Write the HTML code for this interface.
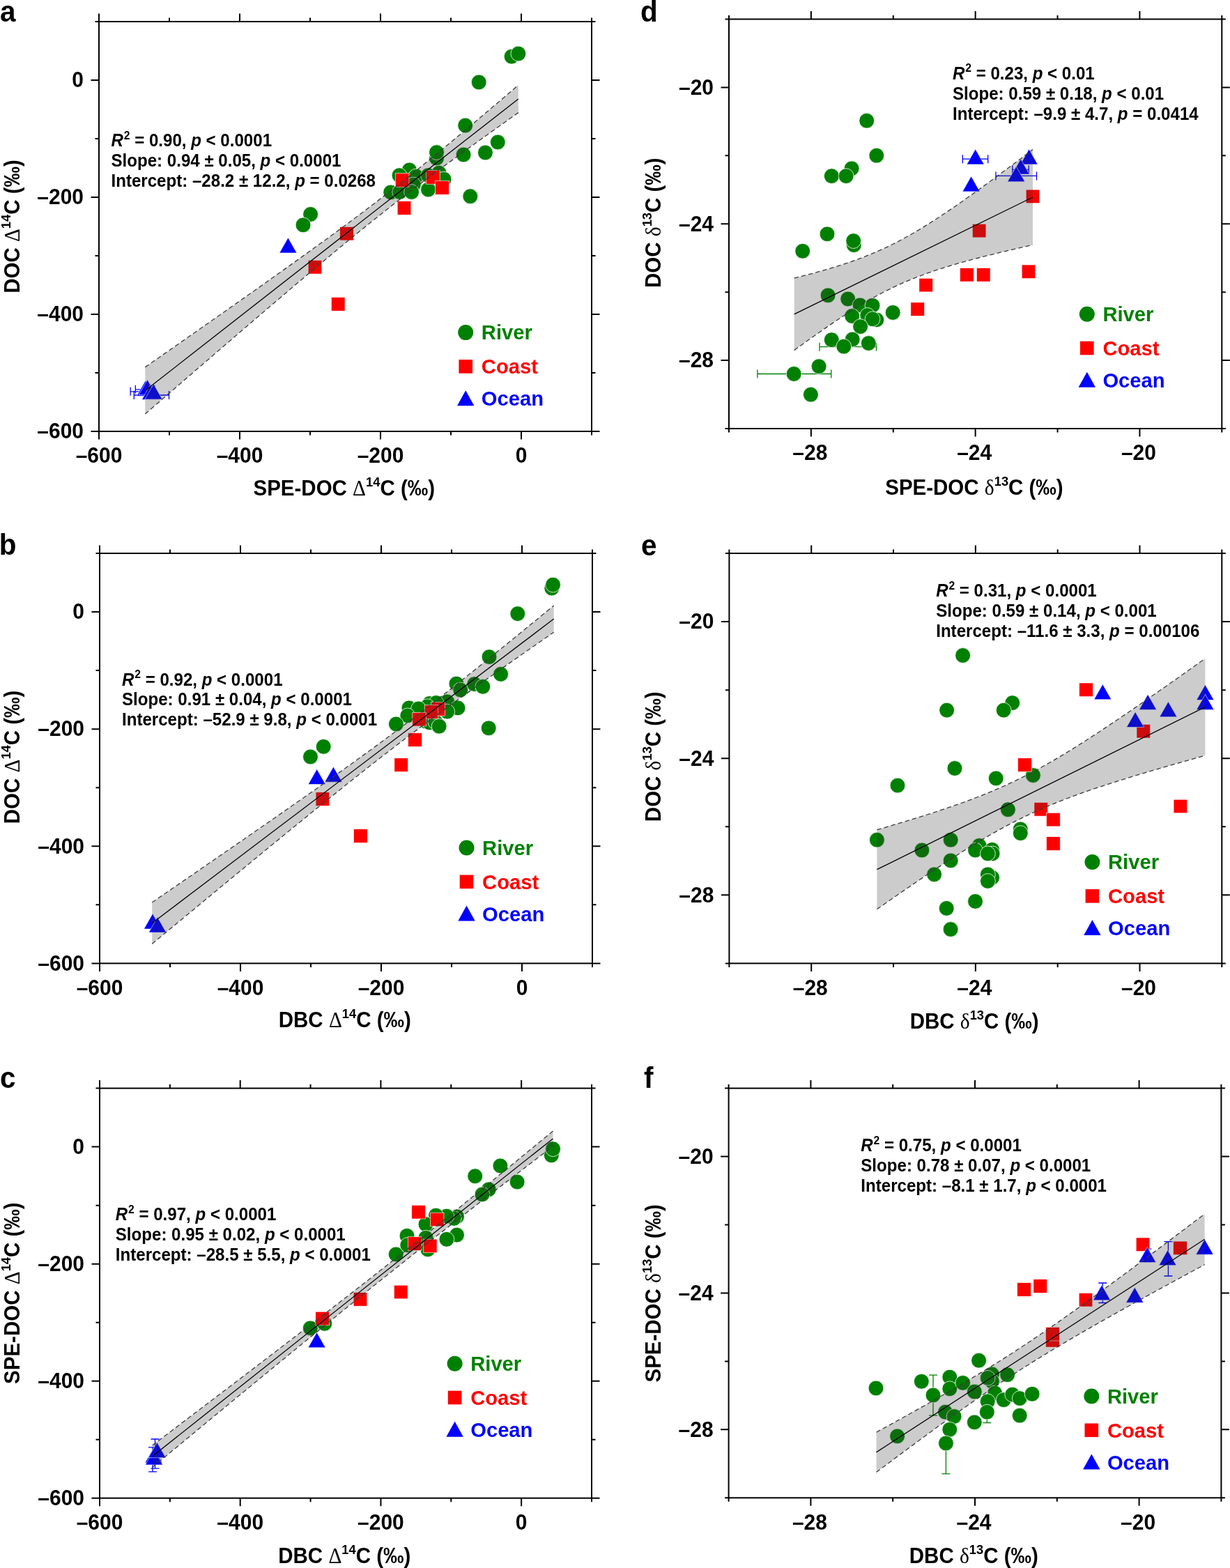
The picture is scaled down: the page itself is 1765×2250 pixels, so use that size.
<!DOCTYPE html>
<html><head><meta charset="utf-8"><title>Figure</title><style>html,body{margin:0;padding:0;background:#fff;}svg{display:block;}</style></head><body>
<svg width="1765" height="2250" viewBox="0 0 1765 2250" font-family="'Liberation Sans', Arial, Helvetica, sans-serif" font-weight="bold" fill="#000">
<rect width="100%" height="100%" fill="#fff"/>
<g id="pa">
<path d="M187.2 561.8H215M187.2 555.8V567.8M215 555.8V567.8" stroke="#0000ff" stroke-width="1.3" fill="none"/>
<path d="M194.3 558.8H222M194.3 552.8V564.8M222 552.8V564.8" stroke="#0000ff" stroke-width="1.3" fill="none"/>
<path d="M192.3 567H242.5M192.3 561V573M242.5 561V573" stroke="#0000ff" stroke-width="1.3" fill="none"/>
<g fill="#008000" stroke="#fff" stroke-width="0.8">
<circle cx="734.1" cy="81.1" r="10.9"/>
<circle cx="743.8" cy="77" r="10.9"/>
<circle cx="687.2" cy="118" r="10.9"/>
<circle cx="667.7" cy="180" r="10.9"/>
<circle cx="714.3" cy="204" r="10.9"/>
<circle cx="696.4" cy="219" r="10.9"/>
<circle cx="665.1" cy="222" r="10.9"/>
<circle cx="626.5" cy="227" r="10.9"/>
<circle cx="626.5" cy="218.6" r="10.9"/>
<circle cx="674.8" cy="281.7" r="10.9"/>
<circle cx="587.4" cy="243.9" r="10.9"/>
<circle cx="573" cy="251.6" r="10.9"/>
<circle cx="560.7" cy="275.9" r="10.9"/>
<circle cx="573.7" cy="275.5" r="10.9"/>
<circle cx="596.9" cy="253" r="10.9"/>
<circle cx="593.4" cy="265" r="10.9"/>
<circle cx="590.6" cy="275.5" r="10.9"/>
<circle cx="614.5" cy="272" r="10.9"/>
<circle cx="614.5" cy="251.6" r="10.9"/>
<circle cx="630" cy="248.1" r="10.9"/>
<circle cx="637" cy="257.2" r="10.9"/>
<circle cx="445.6" cy="307.5" r="10.9"/>
<circle cx="435" cy="322.9" r="10.9"/>
</g>
<g fill="#ff0000" stroke="#fff" stroke-width="0.6">
<rect x="567.3" y="248.7" width="19.6" height="19.6"/>
<rect x="611.6" y="244.6" width="19.6" height="19.6"/>
<rect x="624.7" y="259.6" width="19.6" height="19.6"/>
<rect x="570.2" y="288.7" width="19.6" height="19.6"/>
<rect x="487.7" y="325.4" width="19.6" height="19.6"/>
<rect x="442.2" y="373.5" width="19.6" height="19.6"/>
<rect x="475.4" y="426.6" width="19.6" height="19.6"/>
</g>
<g fill="#0000ff" stroke="#fff" stroke-width="0.6">
<polygon points="413.4,341 425.9,363 400.9,363"/>
<polygon points="208.5,546.5 221,568.5 196,568.5"/>
<polygon points="211.5,544.8 224,566.8 199,566.8"/>
<polygon points="216,551.5 228.5,573.5 203.5,573.5"/>
<polygon points="220.4,551 232.9,573 207.9,573"/>
</g>
<polygon points="208.3,526.9 217.38,520.57 226.45,514.23 235.53,507.9 244.61,501.56 253.68,495.22 262.76,488.87 271.83,482.52 280.91,476.17 289.99,469.81 299.06,463.45 308.14,457.09 317.22,450.72 326.29,444.34 335.37,437.96 344.44,431.57 353.52,425.17 362.6,418.77 371.67,412.36 380.75,405.93 389.83,399.5 398.9,393.05 407.98,386.6 417.05,380.12 426.13,373.63 435.21,367.12 444.28,360.59 453.36,354.04 462.44,347.46 471.51,340.86 480.59,334.22 489.66,327.55 498.74,320.84 507.82,314.09 516.89,307.3 525.97,300.45 535.05,293.56 544.12,286.61 553.2,279.6 562.27,272.53 571.35,265.41 580.43,258.23 589.5,250.99 598.58,243.7 607.66,236.35 616.73,228.96 625.81,221.52 634.88,214.04 643.96,206.52 653.04,198.97 662.11,191.39 671.19,183.77 680.27,176.14 689.34,168.48 698.42,160.79 707.49,153.1 716.57,145.38 725.65,137.65 734.72,129.91 743.8,122.15 743.8,161.65 734.72,168.08 725.65,174.53 716.57,180.99 707.49,187.46 698.42,193.95 689.34,200.46 680.27,206.99 671.19,213.55 662.11,220.12 653.04,226.73 643.96,233.37 634.88,240.04 625.81,246.75 616.73,253.5 607.66,260.29 598.58,267.14 589.5,274.04 580.43,280.99 571.35,288 562.27,295.06 553.2,302.19 544.12,309.37 535.05,316.61 525.97,323.9 516.89,331.25 507.82,338.64 498.74,346.08 489.66,353.56 480.59,361.08 471.51,368.64 462.44,376.22 453.36,383.83 444.28,391.47 435.21,399.13 426.13,406.81 417.05,414.51 407.98,422.23 398.9,429.96 389.83,437.7 380.75,445.46 371.67,453.23 362.6,461 353.52,468.79 344.44,476.58 335.37,484.38 326.29,492.19 317.22,500 308.14,507.82 299.06,515.65 289.99,523.48 280.91,531.31 271.83,539.15 262.76,546.99 253.68,554.83 244.61,562.68 235.53,570.53 226.45,578.39 217.38,586.24 208.3,594.1" fill="#323232" fill-opacity="0.25" stroke="none"/>
<polyline points="208.3,526.9 217.38,520.57 226.45,514.23 235.53,507.9 244.61,501.56 253.68,495.22 262.76,488.87 271.83,482.52 280.91,476.17 289.99,469.81 299.06,463.45 308.14,457.09 317.22,450.72 326.29,444.34 335.37,437.96 344.44,431.57 353.52,425.17 362.6,418.77 371.67,412.36 380.75,405.93 389.83,399.5 398.9,393.05 407.98,386.6 417.05,380.12 426.13,373.63 435.21,367.12 444.28,360.59 453.36,354.04 462.44,347.46 471.51,340.86 480.59,334.22 489.66,327.55 498.74,320.84 507.82,314.09 516.89,307.3 525.97,300.45 535.05,293.56 544.12,286.61 553.2,279.6 562.27,272.53 571.35,265.41 580.43,258.23 589.5,250.99 598.58,243.7 607.66,236.35 616.73,228.96 625.81,221.52 634.88,214.04 643.96,206.52 653.04,198.97 662.11,191.39 671.19,183.77 680.27,176.14 689.34,168.48 698.42,160.79 707.49,153.1 716.57,145.38 725.65,137.65 734.72,129.91 743.8,122.15" fill="none" stroke="#3c3c3c" stroke-width="1.3" stroke-dasharray="6.4 4.1"/>
<polyline points="208.3,594.1 217.38,586.24 226.45,578.39 235.53,570.53 244.61,562.68 253.68,554.83 262.76,546.99 271.83,539.15 280.91,531.31 289.99,523.48 299.06,515.65 308.14,507.82 317.22,500 326.29,492.19 335.37,484.38 344.44,476.58 353.52,468.79 362.6,461 371.67,453.23 380.75,445.46 389.83,437.7 398.9,429.96 407.98,422.23 417.05,414.51 426.13,406.81 435.21,399.13 444.28,391.47 453.36,383.83 462.44,376.22 471.51,368.64 480.59,361.08 489.66,353.56 498.74,346.08 507.82,338.64 516.89,331.25 525.97,323.9 535.05,316.61 544.12,309.37 553.2,302.19 562.27,295.06 571.35,288 580.43,280.99 589.5,274.04 598.58,267.14 607.66,260.29 616.73,253.5 625.81,246.75 634.88,240.04 643.96,233.37 653.04,226.73 662.11,220.12 671.19,213.55 680.27,206.99 689.34,200.46 698.42,193.95 707.49,187.46 716.57,180.99 725.65,174.53 734.72,168.08 743.8,161.65" fill="none" stroke="#3c3c3c" stroke-width="1.3" stroke-dasharray="6.4 4.1"/>
<line x1="208.3" y1="560.5" x2="743.8" y2="141.9" stroke="#000" stroke-width="1.3"/>
<path d="M142 619V630.5M142 31V19.5M243 619V624.5M243 31V25.5M344 619V630.5M344 31V19.5M445 619V624.5M445 31V25.5M546 619V630.5M546 31V19.5M647 619V624.5M647 31V25.5M748 619V630.5M748 31V19.5M849 619V624.5M849 31V25.5M142 619H130.5M849 619H860.5M142 535H136.5M849 535H854.5M142 451H130.5M849 451H860.5M142 367H136.5M849 367H854.5M142 283H130.5M849 283H860.5M142 199H136.5M849 199H854.5M142 115H130.5M849 115H860.5M142 31H136.5M849 31H854.5" stroke="#000" stroke-width="2" fill="none" stroke-linecap="butt"/>
<rect x="142" y="31" width="707" height="588" fill="none" stroke="#000" stroke-width="2"/>
<text transform="translate(142 664.3) scale(1 1.035)" text-anchor="middle" font-size="30">–600</text>
<text transform="translate(344 664.3) scale(1 1.035)" text-anchor="middle" font-size="30">–400</text>
<text transform="translate(546 664.3) scale(1 1.035)" text-anchor="middle" font-size="30">–200</text>
<text transform="translate(748 664.3) scale(1 1.035)" text-anchor="middle" font-size="30">0</text>
<text transform="translate(120 629.32) scale(1 1.035)" text-anchor="end" font-size="30">–600</text>
<text transform="translate(120 461.32) scale(1 1.035)" text-anchor="end" font-size="30">–400</text>
<text transform="translate(120 293.32) scale(1 1.035)" text-anchor="end" font-size="30">–200</text>
<text transform="translate(120 125.32) scale(1 1.035)" text-anchor="end" font-size="30">0</text>
<text transform="translate(493.8 710.8) scale(1 1.035)" text-anchor="middle" font-size="29.5"><tspan>SPE-DOC </tspan><tspan font-family="'Liberation Serif', serif" font-weight="normal" font-size="29.5">Δ</tspan><tspan font-size="18.29" dy="-12.39">14</tspan><tspan dy="12.39">C (‰)</tspan></text>
<text transform="translate(28.1 325) rotate(-90) scale(1 1.035)" text-anchor="middle" font-size="29.5"><tspan>DOC </tspan><tspan font-family="'Liberation Serif', serif" font-weight="normal" font-size="29.5">Δ</tspan><tspan font-size="18.29" dy="-12.39">14</tspan><tspan dy="12.39">C (‰)</tspan></text>
<text transform="translate(0 31.2) scale(1 1.035)" font-size="40.5">a</text>
<text transform="translate(159.5 210) scale(1 1.035)" font-size="24.1" xml:space="preserve"><tspan font-style="italic">R</tspan><tspan font-size="15.67" dx="0.8" dy="-10.12">2</tspan><tspan dy="10.12"> </tspan>= 0.90, <tspan font-style="italic">p</tspan> < 0.0001</text>
<text transform="translate(159.5 238.8) scale(1 1.035)" font-size="24.1" xml:space="preserve">Slope: 0.94 ± 0.05, <tspan font-style="italic">p</tspan> < 0.0001</text>
<text transform="translate(159.5 267.6) scale(1 1.035)" font-size="24.1" xml:space="preserve">Intercept: –28.2 ± 12.2, <tspan font-style="italic">p</tspan> = 0.0268</text>
<circle cx="668.2" cy="477.1" r="11" fill="#008000"/>
<text transform="translate(690.8 487.3) scale(1 1.035)" font-size="29.2" fill="#008000">River</text>
<rect x="658.4" y="516.1" width="19.6" height="19.6" fill="#ff0000"/>
<text transform="translate(690.8 536.2) scale(1 1.035)" font-size="29.2" fill="#ff0000">Coast</text>
<polygon points="668.2,560.2 680.4,582.2 656,582.2" fill="#0000ff"/>
<text transform="translate(690.8 582.2) scale(1 1.035)" font-size="29.2" fill="#0000ff">Ocean</text>
</g>
<g id="pb">
<g fill="#008000" stroke="#fff" stroke-width="0.8">
<circle cx="791.8" cy="844" r="10.9"/>
<circle cx="793.5" cy="839.1" r="10.9"/>
<circle cx="742.8" cy="880.6" r="10.9"/>
<circle cx="702" cy="942.6" r="10.9"/>
<circle cx="718.6" cy="967.4" r="10.9"/>
<circle cx="654.9" cy="981.1" r="10.9"/>
<circle cx="660.7" cy="990" r="10.9"/>
<circle cx="680.7" cy="981.6" r="10.9"/>
<circle cx="692.8" cy="985.3" r="10.9"/>
<circle cx="701.2" cy="1044.8" r="10.9"/>
<circle cx="641.7" cy="1006.9" r="10.9"/>
<circle cx="657" cy="1015.9" r="10.9"/>
<circle cx="641.7" cy="1021.1" r="10.9"/>
<circle cx="616.4" cy="1009.5" r="10.9"/>
<circle cx="625.9" cy="1008.5" r="10.9"/>
<circle cx="613.2" cy="1013.7" r="10.9"/>
<circle cx="586.9" cy="1015.9" r="10.9"/>
<circle cx="600.6" cy="1016.9" r="10.9"/>
<circle cx="584.8" cy="1026.9" r="10.9"/>
<circle cx="568.4" cy="1039" r="10.9"/>
<circle cx="611.6" cy="1035.3" r="10.9"/>
<circle cx="616.4" cy="1036.9" r="10.9"/>
<circle cx="624.8" cy="1035.9" r="10.9"/>
<circle cx="630.1" cy="1042.2" r="10.9"/>
<circle cx="464.2" cy="1071.4" r="10.9"/>
<circle cx="445.5" cy="1086" r="10.9"/>
</g>
<g fill="#ff0000" stroke="#fff" stroke-width="0.6">
<rect x="618.7" y="1007.6" width="19.6" height="19.6"/>
<rect x="609.2" y="1011.8" width="19.6" height="19.6"/>
<rect x="591.8" y="1022.4" width="19.6" height="19.6"/>
<rect x="585.7" y="1051.8" width="19.6" height="19.6"/>
<rect x="565.9" y="1087.8" width="19.6" height="19.6"/>
<rect x="453.1" y="1136.8" width="19.6" height="19.6"/>
<rect x="507.6" y="1189.7" width="19.6" height="19.6"/>
</g>
<g fill="#0000ff" stroke="#fff" stroke-width="0.6">
<polygon points="454.7,1103.6 467.2,1125.6 442.2,1125.6"/>
<polygon points="478.4,1100.2 490.9,1122.2 465.9,1122.2"/>
<polygon points="219,1311.1 231.5,1333.1 206.5,1333.1"/>
<polygon points="226,1316.1 238.5,1338.1 213.5,1338.1"/>
</g>
<polygon points="218.2,1294.95 227.97,1288.25 237.74,1281.54 247.51,1274.83 257.28,1268.12 267.06,1261.41 276.83,1254.69 286.6,1247.97 296.37,1241.24 306.14,1234.51 315.91,1227.78 325.68,1221.04 335.45,1214.3 345.23,1207.55 355,1200.79 364.77,1194.03 374.54,1187.26 384.31,1180.48 394.08,1173.69 403.85,1166.89 413.62,1160.07 423.39,1153.25 433.17,1146.41 442.94,1139.55 452.71,1132.68 462.48,1125.79 472.25,1118.87 482.02,1111.93 491.79,1104.97 501.56,1097.97 511.34,1090.94 521.11,1083.87 530.88,1076.76 540.65,1069.61 550.42,1062.41 560.19,1055.17 569.96,1047.87 579.73,1040.52 589.51,1033.12 599.28,1025.67 609.05,1018.16 618.82,1010.6 628.59,1002.99 638.36,995.34 648.13,987.64 657.9,979.91 667.67,972.13 677.45,964.33 687.22,956.49 696.99,948.63 706.76,940.74 716.53,932.84 726.3,924.91 736.07,916.96 745.84,909 755.62,901.02 765.39,893.03 775.16,885.03 784.93,877.02 794.7,869 794.7,907.2 784.93,913.98 775.16,920.77 765.39,927.57 755.62,934.38 745.84,941.2 736.07,948.04 726.3,954.89 716.53,961.76 706.76,968.66 696.99,975.57 687.22,982.51 677.45,989.47 667.67,996.47 657.9,1003.49 648.13,1010.56 638.36,1017.66 628.59,1024.81 618.82,1032 609.05,1039.24 599.28,1046.53 589.51,1053.88 579.73,1061.28 569.96,1068.73 560.19,1076.23 550.42,1083.79 540.65,1091.39 530.88,1099.04 521.11,1106.73 511.34,1114.46 501.56,1122.23 491.79,1130.03 482.02,1137.87 472.25,1145.73 462.48,1153.61 452.71,1161.52 442.94,1169.45 433.17,1177.39 423.39,1185.35 413.62,1193.33 403.85,1201.31 394.08,1209.31 384.31,1217.32 374.54,1225.34 364.77,1233.37 355,1241.41 345.23,1249.45 335.45,1257.5 325.68,1265.56 315.91,1273.62 306.14,1281.69 296.37,1289.76 286.6,1297.83 276.83,1305.91 267.06,1313.99 257.28,1322.08 247.51,1330.17 237.74,1338.26 227.97,1346.35 218.2,1354.45" fill="#323232" fill-opacity="0.25" stroke="none"/>
<polyline points="218.2,1294.95 227.97,1288.25 237.74,1281.54 247.51,1274.83 257.28,1268.12 267.06,1261.41 276.83,1254.69 286.6,1247.97 296.37,1241.24 306.14,1234.51 315.91,1227.78 325.68,1221.04 335.45,1214.3 345.23,1207.55 355,1200.79 364.77,1194.03 374.54,1187.26 384.31,1180.48 394.08,1173.69 403.85,1166.89 413.62,1160.07 423.39,1153.25 433.17,1146.41 442.94,1139.55 452.71,1132.68 462.48,1125.79 472.25,1118.87 482.02,1111.93 491.79,1104.97 501.56,1097.97 511.34,1090.94 521.11,1083.87 530.88,1076.76 540.65,1069.61 550.42,1062.41 560.19,1055.17 569.96,1047.87 579.73,1040.52 589.51,1033.12 599.28,1025.67 609.05,1018.16 618.82,1010.6 628.59,1002.99 638.36,995.34 648.13,987.64 657.9,979.91 667.67,972.13 677.45,964.33 687.22,956.49 696.99,948.63 706.76,940.74 716.53,932.84 726.3,924.91 736.07,916.96 745.84,909 755.62,901.02 765.39,893.03 775.16,885.03 784.93,877.02 794.7,869" fill="none" stroke="#3c3c3c" stroke-width="1.3" stroke-dasharray="6.4 4.1"/>
<polyline points="218.2,1354.45 227.97,1346.35 237.74,1338.26 247.51,1330.17 257.28,1322.08 267.06,1313.99 276.83,1305.91 286.6,1297.83 296.37,1289.76 306.14,1281.69 315.91,1273.62 325.68,1265.56 335.45,1257.5 345.23,1249.45 355,1241.41 364.77,1233.37 374.54,1225.34 384.31,1217.32 394.08,1209.31 403.85,1201.31 413.62,1193.33 423.39,1185.35 433.17,1177.39 442.94,1169.45 452.71,1161.52 462.48,1153.61 472.25,1145.73 482.02,1137.87 491.79,1130.03 501.56,1122.23 511.34,1114.46 521.11,1106.73 530.88,1099.04 540.65,1091.39 550.42,1083.79 560.19,1076.23 569.96,1068.73 579.73,1061.28 589.51,1053.88 599.28,1046.53 609.05,1039.24 618.82,1032 628.59,1024.81 638.36,1017.66 648.13,1010.56 657.9,1003.49 667.67,996.47 677.45,989.47 687.22,982.51 696.99,975.57 706.76,968.66 716.53,961.76 726.3,954.89 736.07,948.04 745.84,941.2 755.62,934.38 765.39,927.57 775.16,920.77 784.93,913.98 794.7,907.2" fill="none" stroke="#3c3c3c" stroke-width="1.3" stroke-dasharray="6.4 4.1"/>
<line x1="218.2" y1="1324.7" x2="794.7" y2="888.1" stroke="#000" stroke-width="1.3"/>
<path d="M143 1382.4V1393.9M143 794V782.5M244 1382.4V1387.9M244 794V788.5M345 1382.4V1393.9M345 794V782.5M446 1382.4V1387.9M446 794V788.5M547 1382.4V1393.9M547 794V782.5M648 1382.4V1387.9M648 794V788.5M749 1382.4V1393.9M749 794V782.5M850 1382.4V1387.9M850 794V788.5M143 1382.4H131.5M850 1382.4H861.5M143 1298.34H137.5M850 1298.34H855.5M143 1214.29H131.5M850 1214.29H861.5M143 1130.23H137.5M850 1130.23H855.5M143 1046.17H131.5M850 1046.17H861.5M143 962.11H137.5M850 962.11H855.5M143 878.06H131.5M850 878.06H861.5M143 794H137.5M850 794H855.5" stroke="#000" stroke-width="2" fill="none" stroke-linecap="butt"/>
<rect x="143" y="794" width="707" height="588.4" fill="none" stroke="#000" stroke-width="2"/>
<text transform="translate(143 1427.7) scale(1 1.035)" text-anchor="middle" font-size="30">–600</text>
<text transform="translate(345 1427.7) scale(1 1.035)" text-anchor="middle" font-size="30">–400</text>
<text transform="translate(547 1427.7) scale(1 1.035)" text-anchor="middle" font-size="30">–200</text>
<text transform="translate(749 1427.7) scale(1 1.035)" text-anchor="middle" font-size="30">0</text>
<text transform="translate(121 1392.72) scale(1 1.035)" text-anchor="end" font-size="30">–600</text>
<text transform="translate(121 1224.6) scale(1 1.035)" text-anchor="end" font-size="30">–400</text>
<text transform="translate(121 1056.49) scale(1 1.035)" text-anchor="end" font-size="30">–200</text>
<text transform="translate(121 888.37) scale(1 1.035)" text-anchor="end" font-size="30">0</text>
<text transform="translate(494.8 1473.9) scale(1 1.035)" text-anchor="middle" font-size="29.5"><tspan>DBC </tspan><tspan font-family="'Liberation Serif', serif" font-weight="normal" font-size="29.5">Δ</tspan><tspan font-size="18.29" dy="-12.39">14</tspan><tspan dy="12.39">C (‰)</tspan></text>
<text transform="translate(28.1 1086.45) rotate(-90) scale(1 1.035)" text-anchor="middle" font-size="29.5"><tspan>DOC </tspan><tspan font-family="'Liberation Serif', serif" font-weight="normal" font-size="29.5">Δ</tspan><tspan font-size="18.29" dy="-12.39">14</tspan><tspan dy="12.39">C (‰)</tspan></text>
<text transform="translate(-1.2 796.4) scale(1 1.035)" font-size="40.5">b</text>
<text transform="translate(175 983.5) scale(1 1.035)" font-size="24.1" xml:space="preserve"><tspan font-style="italic">R</tspan><tspan font-size="15.67" dx="0.8" dy="-10.12">2</tspan><tspan dy="10.12"> </tspan>= 0.92, <tspan font-style="italic">p</tspan> < 0.0001</text>
<text transform="translate(175 1012.3) scale(1 1.035)" font-size="24.1" xml:space="preserve">Slope: 0.91 ± 0.04, <tspan font-style="italic">p</tspan> < 0.0001</text>
<text transform="translate(175 1041.1) scale(1 1.035)" font-size="24.1" xml:space="preserve">Intercept: –52.9 ± 9.8, <tspan font-style="italic">p</tspan> < 0.0001</text>
<circle cx="669.5" cy="1216.5" r="11" fill="#008000"/>
<text transform="translate(692.1 1226.7) scale(1 1.035)" font-size="29.2" fill="#008000">River</text>
<rect x="659.7" y="1255.5" width="19.6" height="19.6" fill="#ff0000"/>
<text transform="translate(692.1 1275.6) scale(1 1.035)" font-size="29.2" fill="#ff0000">Coast</text>
<polygon points="669.5,1299.6 681.7,1321.6 657.3,1321.6" fill="#0000ff"/>
<text transform="translate(692.1 1321.6) scale(1 1.035)" font-size="29.2" fill="#0000ff">Ocean</text>
</g>
<g id="pc">
<path d="M222.5 2065V2107.2M216.5 2065H228.5M216.5 2107.2H228.5" stroke="#0000ff" stroke-width="1.3" fill="none"/>
<path d="M219 2076.8V2111.8M213 2076.8H225M213 2111.8H225" stroke="#0000ff" stroke-width="1.3" fill="none"/>
<g fill="#008000" stroke="#fff" stroke-width="0.8">
<circle cx="791.3" cy="1657.8" r="10.9"/>
<circle cx="793.5" cy="1648.7" r="10.9"/>
<circle cx="717.9" cy="1672.9" r="10.9"/>
<circle cx="681.7" cy="1687.7" r="10.9"/>
<circle cx="742.1" cy="1696" r="10.9"/>
<circle cx="701.2" cy="1706.8" r="10.9"/>
<circle cx="692" cy="1713.9" r="10.9"/>
<circle cx="655.5" cy="1745.9" r="10.9"/>
<circle cx="651.3" cy="1748.4" r="10.9"/>
<circle cx="640.9" cy="1745.1" r="10.9"/>
<circle cx="625.5" cy="1744.2" r="10.9"/>
<circle cx="611" cy="1756.7" r="10.9"/>
<circle cx="655.5" cy="1772.1" r="10.9"/>
<circle cx="640.9" cy="1778.3" r="10.9"/>
<circle cx="584" cy="1773.3" r="10.9"/>
<circle cx="584.8" cy="1786.6" r="10.9"/>
<circle cx="611" cy="1776.2" r="10.9"/>
<circle cx="613.9" cy="1792.9" r="10.9"/>
<circle cx="568.2" cy="1799.9" r="10.9"/>
<circle cx="445.3" cy="1905.8" r="10.9"/>
<circle cx="465.8" cy="1899.3" r="10.9"/>
</g>
<g fill="#ff0000" stroke="#fff" stroke-width="0.6">
<rect x="590.8" y="1729.4" width="19.6" height="19.6"/>
<rect x="617.4" y="1740.2" width="19.6" height="19.6"/>
<rect x="585.4" y="1774.8" width="19.6" height="19.6"/>
<rect x="607.4" y="1778.1" width="19.6" height="19.6"/>
<rect x="565.4" y="1844.2" width="19.6" height="19.6"/>
<rect x="507.2" y="1854.6" width="19.6" height="19.6"/>
<rect x="452.8" y="1882.2" width="19.6" height="19.6"/>
</g>
<g fill="#0000ff" stroke="#fff" stroke-width="0.6">
<polygon points="454.6,1911.8 467.1,1933.8 442.1,1933.8"/>
<polygon points="220.6,2077 233.1,2099 208.1,2099"/>
<polygon points="221,2080 233.5,2102 208.5,2102"/>
<polygon points="225.4,2069.7 237.9,2091.7 212.9,2091.7"/>
</g>
<polygon points="218.7,2074 228.44,2066.61 238.18,2059.22 247.93,2051.83 257.67,2044.43 267.41,2037.03 277.15,2029.63 286.9,2022.23 296.64,2014.82 306.38,2007.41 316.12,2000 325.87,1992.58 335.61,1985.16 345.35,1977.73 355.09,1970.3 364.84,1962.87 374.58,1955.43 384.32,1947.98 394.06,1940.53 403.81,1933.07 413.55,1925.6 423.29,1918.13 433.03,1910.64 442.77,1903.15 452.52,1895.65 462.26,1888.13 472,1880.6 481.74,1873.06 491.49,1865.51 501.23,1857.94 510.97,1850.36 520.71,1842.76 530.46,1835.14 540.2,1827.5 549.94,1819.85 559.68,1812.17 569.43,1804.48 579.17,1796.77 588.91,1789.03 598.65,1781.28 608.39,1773.51 618.14,1765.71 627.88,1757.9 637.62,1750.07 647.36,1742.22 657.11,1734.36 666.85,1726.48 676.59,1718.59 686.33,1710.68 696.08,1702.75 705.82,1694.82 715.56,1686.88 725.3,1678.92 735.05,1670.96 744.79,1662.98 754.53,1655 764.27,1647.01 774.02,1639.01 783.76,1631.01 793.5,1623 793.5,1644.8 783.76,1652.24 774.02,1659.69 764.27,1667.14 754.53,1674.6 744.79,1682.07 735.05,1689.55 725.3,1697.04 715.56,1704.53 705.82,1712.04 696.08,1719.55 686.33,1727.08 676.59,1734.63 666.85,1742.18 657.11,1749.75 647.36,1757.34 637.62,1764.94 627.88,1772.56 618.14,1780.2 608.39,1787.86 598.65,1795.54 588.91,1803.23 579.17,1810.95 569.43,1818.69 559.68,1826.45 549.94,1834.22 540.2,1842.02 530.46,1849.83 520.71,1857.67 510.97,1865.52 501.23,1873.38 491.49,1881.27 481.74,1889.16 472,1897.07 462.26,1905 452.52,1912.93 442.77,1920.88 433.03,1928.84 423.29,1936.8 413.55,1944.78 403.81,1952.76 394.06,1960.75 384.32,1968.75 374.58,1976.76 364.84,1984.77 355.09,1992.78 345.35,2000.8 335.61,2008.83 325.87,2016.86 316.12,2024.89 306.38,2032.93 296.64,2040.97 286.9,2049.02 277.15,2057.06 267.41,2065.11 257.67,2073.17 247.93,2081.22 238.18,2089.28 228.44,2097.34 218.7,2105.4" fill="#323232" fill-opacity="0.25" stroke="none"/>
<polyline points="218.7,2074 228.44,2066.61 238.18,2059.22 247.93,2051.83 257.67,2044.43 267.41,2037.03 277.15,2029.63 286.9,2022.23 296.64,2014.82 306.38,2007.41 316.12,2000 325.87,1992.58 335.61,1985.16 345.35,1977.73 355.09,1970.3 364.84,1962.87 374.58,1955.43 384.32,1947.98 394.06,1940.53 403.81,1933.07 413.55,1925.6 423.29,1918.13 433.03,1910.64 442.77,1903.15 452.52,1895.65 462.26,1888.13 472,1880.6 481.74,1873.06 491.49,1865.51 501.23,1857.94 510.97,1850.36 520.71,1842.76 530.46,1835.14 540.2,1827.5 549.94,1819.85 559.68,1812.17 569.43,1804.48 579.17,1796.77 588.91,1789.03 598.65,1781.28 608.39,1773.51 618.14,1765.71 627.88,1757.9 637.62,1750.07 647.36,1742.22 657.11,1734.36 666.85,1726.48 676.59,1718.59 686.33,1710.68 696.08,1702.75 705.82,1694.82 715.56,1686.88 725.3,1678.92 735.05,1670.96 744.79,1662.98 754.53,1655 764.27,1647.01 774.02,1639.01 783.76,1631.01 793.5,1623" fill="none" stroke="#3c3c3c" stroke-width="1.3" stroke-dasharray="6.4 4.1"/>
<polyline points="218.7,2105.4 228.44,2097.34 238.18,2089.28 247.93,2081.22 257.67,2073.17 267.41,2065.11 277.15,2057.06 286.9,2049.02 296.64,2040.97 306.38,2032.93 316.12,2024.89 325.87,2016.86 335.61,2008.83 345.35,2000.8 355.09,1992.78 364.84,1984.77 374.58,1976.76 384.32,1968.75 394.06,1960.75 403.81,1952.76 413.55,1944.78 423.29,1936.8 433.03,1928.84 442.77,1920.88 452.52,1912.93 462.26,1905 472,1897.07 481.74,1889.16 491.49,1881.27 501.23,1873.38 510.97,1865.52 520.71,1857.67 530.46,1849.83 540.2,1842.02 549.94,1834.22 559.68,1826.45 569.43,1818.69 579.17,1810.95 588.91,1803.23 598.65,1795.54 608.39,1787.86 618.14,1780.2 627.88,1772.56 637.62,1764.94 647.36,1757.34 657.11,1749.75 666.85,1742.18 676.59,1734.63 686.33,1727.08 696.08,1719.55 705.82,1712.04 715.56,1704.53 725.3,1697.04 735.05,1689.55 744.79,1682.07 754.53,1674.6 764.27,1667.14 774.02,1659.69 783.76,1652.24 793.5,1644.8" fill="none" stroke="#3c3c3c" stroke-width="1.3" stroke-dasharray="6.4 4.1"/>
<line x1="218.7" y1="2089.7" x2="793.5" y2="1633.9" stroke="#000" stroke-width="1.3"/>
<path d="M143 2149.7V2161.2M143 1561.6V1550.1M243.86 2149.7V2155.2M243.86 1561.6V1556.1M344.71 2149.7V2161.2M344.71 1561.6V1550.1M445.57 2149.7V2155.2M445.57 1561.6V1556.1M546.43 2149.7V2161.2M546.43 1561.6V1550.1M647.29 2149.7V2155.2M647.29 1561.6V1556.1M748.14 2149.7V2161.2M748.14 1561.6V1550.1M849 2149.7V2155.2M849 1561.6V1556.1M143 2149.7H131.5M849 2149.7H860.5M143 2065.69H137.5M849 2065.69H854.5M143 1981.67H131.5M849 1981.67H860.5M143 1897.66H137.5M849 1897.66H854.5M143 1813.64H131.5M849 1813.64H860.5M143 1729.63H137.5M849 1729.63H854.5M143 1645.61H131.5M849 1645.61H860.5M143 1561.6H137.5M849 1561.6H854.5" stroke="#000" stroke-width="2" fill="none" stroke-linecap="butt"/>
<rect x="143" y="1561.6" width="706" height="588.1" fill="none" stroke="#000" stroke-width="2"/>
<text transform="translate(143 2195) scale(1 1.035)" text-anchor="middle" font-size="30">–600</text>
<text transform="translate(344.71 2195) scale(1 1.035)" text-anchor="middle" font-size="30">–400</text>
<text transform="translate(546.43 2195) scale(1 1.035)" text-anchor="middle" font-size="30">–200</text>
<text transform="translate(748.14 2195) scale(1 1.035)" text-anchor="middle" font-size="30">0</text>
<text transform="translate(121 2160.02) scale(1 1.035)" text-anchor="end" font-size="30">–600</text>
<text transform="translate(121 1991.99) scale(1 1.035)" text-anchor="end" font-size="30">–400</text>
<text transform="translate(121 1823.96) scale(1 1.035)" text-anchor="end" font-size="30">–200</text>
<text transform="translate(121 1655.93) scale(1 1.035)" text-anchor="end" font-size="30">0</text>
<text transform="translate(494.3 2242.9) scale(1 1.035)" text-anchor="middle" font-size="29.5"><tspan>DBC </tspan><tspan font-family="'Liberation Serif', serif" font-weight="normal" font-size="29.5">Δ</tspan><tspan font-size="18.29" dy="-12.39">14</tspan><tspan dy="12.39">C (‰)</tspan></text>
<text transform="translate(28.1 1855.65) rotate(-90) scale(1 1.035)" text-anchor="middle" font-size="29.5"><tspan>SPE-DOC </tspan><tspan font-family="'Liberation Serif', serif" font-weight="normal" font-size="29.5">Δ</tspan><tspan font-size="18.29" dy="-12.39">14</tspan><tspan dy="12.39">C (‰)</tspan></text>
<text transform="translate(0 1561.2) scale(1 1.035)" font-size="40.5">c</text>
<text transform="translate(165.8 1751.3) scale(1 1.035)" font-size="24.1" xml:space="preserve"><tspan font-style="italic">R</tspan><tspan font-size="15.67" dx="0.8" dy="-10.12">2</tspan><tspan dy="10.12"> </tspan>= 0.97, <tspan font-style="italic">p</tspan> < 0.0001</text>
<text transform="translate(165.8 1780.1) scale(1 1.035)" font-size="24.1" xml:space="preserve">Slope: 0.95 ± 0.02, <tspan font-style="italic">p</tspan> < 0.0001</text>
<text transform="translate(165.8 1808.9) scale(1 1.035)" font-size="24.1" xml:space="preserve">Intercept: –28.5 ± 5.5, <tspan font-style="italic">p</tspan> < 0.0001</text>
<circle cx="652.6" cy="1956.7" r="11" fill="#008000"/>
<text transform="translate(675.2 1966.9) scale(1 1.035)" font-size="29.2" fill="#008000">River</text>
<rect x="642.8" y="1995.7" width="19.6" height="19.6" fill="#ff0000"/>
<text transform="translate(675.2 2015.8) scale(1 1.035)" font-size="29.2" fill="#ff0000">Coast</text>
<polygon points="652.6,2039.8 664.8,2061.8 640.4,2061.8" fill="#0000ff"/>
<text transform="translate(675.2 2061.8) scale(1 1.035)" font-size="29.2" fill="#0000ff">Ocean</text>
</g>
<g id="pd">
<path d="M1381.3 228.2H1417.7M1381.3 222.2V234.2M1417.7 222.2V234.2" stroke="#0000ff" stroke-width="1.3" fill="none"/>
<path d="M1429 252.4H1487.5M1429 246.4V258.4M1487.5 246.4V258.4" stroke="#0000ff" stroke-width="1.3" fill="none"/>
<path d="M1452.8 243.3H1476.2M1452.8 237.3V249.3M1476.2 237.3V249.3" stroke="#0000ff" stroke-width="1.3" fill="none"/>
<path d="M1086.9 536.5H1192.7M1086.9 530.5V542.5M1192.7 530.5V542.5" stroke="#008000" stroke-width="1.3" fill="none"/>
<path d="M1176 497.7H1257.5M1176 491.7V503.7M1257.5 491.7V503.7" stroke="#008000" stroke-width="1.3" fill="none"/>
<g fill="#008000" stroke="#fff" stroke-width="0.8">
<circle cx="1243.7" cy="173.2" r="10.9"/>
<circle cx="1257.8" cy="223.2" r="10.9"/>
<circle cx="1222.1" cy="241.8" r="10.9"/>
<circle cx="1193.3" cy="252.6" r="10.9"/>
<circle cx="1214.1" cy="252.6" r="10.9"/>
<circle cx="1187" cy="335.8" r="10.9"/>
<circle cx="1225.3" cy="351.6" r="10.9"/>
<circle cx="1224.7" cy="345.6" r="10.9"/>
<circle cx="1151.7" cy="360.3" r="10.9"/>
<circle cx="1188.1" cy="423.8" r="10.9"/>
<circle cx="1216.7" cy="429" r="10.9"/>
<circle cx="1234" cy="437.9" r="10.9"/>
<circle cx="1252" cy="438.3" r="10.9"/>
<circle cx="1281.2" cy="448.5" r="10.9"/>
<circle cx="1222.7" cy="453.5" r="10.9"/>
<circle cx="1244.8" cy="452.4" r="10.9"/>
<circle cx="1257.8" cy="458.9" r="10.9"/>
<circle cx="1252" cy="457.8" r="10.9"/>
<circle cx="1234.6" cy="468.6" r="10.9"/>
<circle cx="1193.3" cy="487.7" r="10.9"/>
<circle cx="1223.2" cy="487" r="10.9"/>
<circle cx="1246.3" cy="492.5" r="10.9"/>
<circle cx="1210.8" cy="497.2" r="10.9"/>
<circle cx="1175.1" cy="525.7" r="10.9"/>
<circle cx="1139.2" cy="536.5" r="10.9"/>
<circle cx="1163.4" cy="566.2" r="10.9"/>
</g>
<g fill="#ff0000" stroke="#fff" stroke-width="0.6">
<rect x="1472.2" y="272.1" width="19.6" height="19.6"/>
<rect x="1395.3" y="321.3" width="19.6" height="19.6"/>
<rect x="1377.6" y="384.5" width="19.6" height="19.6"/>
<rect x="1401.4" y="384.5" width="19.6" height="19.6"/>
<rect x="1466.2" y="380" width="19.6" height="19.6"/>
<rect x="1318.9" y="399.3" width="19.6" height="19.6"/>
<rect x="1306.9" y="433.9" width="19.6" height="19.6"/>
</g>
<g fill="#0000ff" stroke="#fff" stroke-width="0.6">
<polygon points="1399.7,213.9 1412.2,235.9 1387.2,235.9"/>
<polygon points="1393.6,252.9 1406.1,274.9 1381.1,274.9"/>
<polygon points="1476.6,213.9 1489.1,235.9 1464.1,235.9"/>
<polygon points="1464.7,228.1 1477.2,250.1 1452.2,250.1"/>
<polygon points="1458.2,238.8 1470.7,260.8 1445.7,260.8"/>
</g>
<polygon points="1139.7,399.2 1145.5,397.73 1151.3,396.23 1157.11,394.71 1162.91,393.17 1168.71,391.59 1174.51,389.98 1180.31,388.34 1186.11,386.66 1191.92,384.94 1197.72,383.18 1203.52,381.36 1209.32,379.5 1215.12,377.58 1220.92,375.6 1226.73,373.55 1232.53,371.44 1238.33,369.25 1244.13,366.98 1249.93,364.63 1255.73,362.19 1261.54,359.66 1267.34,357.04 1273.14,354.32 1278.94,351.51 1284.74,348.6 1290.54,345.59 1296.35,342.49 1302.15,339.3 1307.95,336.02 1313.75,332.65 1319.55,329.2 1325.35,325.68 1331.16,322.08 1336.96,318.41 1342.76,314.68 1348.56,310.89 1354.36,307.05 1360.16,303.15 1365.97,299.21 1371.77,295.22 1377.57,291.2 1383.37,287.14 1389.17,283.04 1394.97,278.92 1400.78,274.76 1406.58,270.58 1412.38,266.38 1418.18,262.15 1423.98,257.91 1429.78,253.64 1435.59,249.36 1441.39,245.06 1447.19,240.75 1452.99,236.42 1458.79,232.08 1464.59,227.72 1470.4,223.36 1476.2,218.98 1482,214.6 1482,351.4 1476.2,352.71 1470.4,354.02 1464.59,355.35 1458.79,356.69 1452.99,358.04 1447.19,359.4 1441.39,360.78 1435.59,362.17 1429.78,363.58 1423.98,365.01 1418.18,366.45 1412.38,367.92 1406.58,369.41 1400.78,370.92 1394.97,372.45 1389.17,374.02 1383.37,375.62 1377.57,377.25 1371.77,378.92 1365.97,380.62 1360.16,382.37 1354.36,384.17 1348.56,386.02 1342.76,387.92 1336.96,389.88 1331.16,391.9 1325.35,394 1319.55,396.16 1313.75,398.4 1307.95,400.73 1302.15,403.14 1296.35,405.64 1290.54,408.23 1284.74,410.92 1278.94,413.7 1273.14,416.58 1267.34,419.55 1261.54,422.62 1255.73,425.78 1249.93,429.04 1244.13,432.38 1238.33,435.8 1232.53,439.3 1226.73,442.88 1220.92,446.52 1215.12,450.23 1209.32,454 1203.52,457.83 1197.72,461.71 1191.92,465.64 1186.11,469.61 1180.31,473.62 1174.51,477.67 1168.71,481.75 1162.91,485.87 1157.11,490.01 1151.3,494.18 1145.5,498.38 1139.7,502.6" fill="#323232" fill-opacity="0.25" stroke="none"/>
<polyline points="1139.7,399.2 1145.5,397.73 1151.3,396.23 1157.11,394.71 1162.91,393.17 1168.71,391.59 1174.51,389.98 1180.31,388.34 1186.11,386.66 1191.92,384.94 1197.72,383.18 1203.52,381.36 1209.32,379.5 1215.12,377.58 1220.92,375.6 1226.73,373.55 1232.53,371.44 1238.33,369.25 1244.13,366.98 1249.93,364.63 1255.73,362.19 1261.54,359.66 1267.34,357.04 1273.14,354.32 1278.94,351.51 1284.74,348.6 1290.54,345.59 1296.35,342.49 1302.15,339.3 1307.95,336.02 1313.75,332.65 1319.55,329.2 1325.35,325.68 1331.16,322.08 1336.96,318.41 1342.76,314.68 1348.56,310.89 1354.36,307.05 1360.16,303.15 1365.97,299.21 1371.77,295.22 1377.57,291.2 1383.37,287.14 1389.17,283.04 1394.97,278.92 1400.78,274.76 1406.58,270.58 1412.38,266.38 1418.18,262.15 1423.98,257.91 1429.78,253.64 1435.59,249.36 1441.39,245.06 1447.19,240.75 1452.99,236.42 1458.79,232.08 1464.59,227.72 1470.4,223.36 1476.2,218.98 1482,214.6" fill="none" stroke="#3c3c3c" stroke-width="1.3" stroke-dasharray="6.4 4.1"/>
<polyline points="1139.7,502.6 1145.5,498.38 1151.3,494.18 1157.11,490.01 1162.91,485.87 1168.71,481.75 1174.51,477.67 1180.31,473.62 1186.11,469.61 1191.92,465.64 1197.72,461.71 1203.52,457.83 1209.32,454 1215.12,450.23 1220.92,446.52 1226.73,442.88 1232.53,439.3 1238.33,435.8 1244.13,432.38 1249.93,429.04 1255.73,425.78 1261.54,422.62 1267.34,419.55 1273.14,416.58 1278.94,413.7 1284.74,410.92 1290.54,408.23 1296.35,405.64 1302.15,403.14 1307.95,400.73 1313.75,398.4 1319.55,396.16 1325.35,394 1331.16,391.9 1336.96,389.88 1342.76,387.92 1348.56,386.02 1354.36,384.17 1360.16,382.37 1365.97,380.62 1371.77,378.92 1377.57,377.25 1383.37,375.62 1389.17,374.02 1394.97,372.45 1400.78,370.92 1406.58,369.41 1412.38,367.92 1418.18,366.45 1423.98,365.01 1429.78,363.58 1435.59,362.17 1441.39,360.78 1447.19,359.4 1452.99,358.04 1458.79,356.69 1464.59,355.35 1470.4,354.02 1476.2,352.71 1482,351.4" fill="none" stroke="#3c3c3c" stroke-width="1.3" stroke-dasharray="6.4 4.1"/>
<line x1="1139.7" y1="450.9" x2="1482" y2="283" stroke="#000" stroke-width="1.3"/>
<path d="M1046 615V620.5M1046 27.5V22M1163.88 615V626.5M1163.88 27.5V16M1281.77 615V620.5M1281.77 27.5V22M1399.65 615V626.5M1399.65 27.5V16M1517.53 615V620.5M1517.53 27.5V22M1635.42 615V626.5M1635.42 27.5V16M1753.3 615V620.5M1753.3 27.5V22M1046 615H1040.5M1753.3 615H1758.8M1046 517.08H1034.5M1753.3 517.08H1764.8M1046 419.17H1040.5M1753.3 419.17H1758.8M1046 321.25H1034.5M1753.3 321.25H1764.8M1046 223.33H1040.5M1753.3 223.33H1758.8M1046 125.42H1034.5M1753.3 125.42H1764.8M1046 27.5H1040.5M1753.3 27.5H1758.8" stroke="#000" stroke-width="2" fill="none" stroke-linecap="butt"/>
<rect x="1046" y="27.5" width="707.3" height="587.5" fill="none" stroke="#000" stroke-width="2"/>
<text transform="translate(1162.38 660.3) scale(1 1.035)" text-anchor="middle" font-size="30">–28</text>
<text transform="translate(1398.15 660.3) scale(1 1.035)" text-anchor="middle" font-size="30">–24</text>
<text transform="translate(1633.92 660.3) scale(1 1.035)" text-anchor="middle" font-size="30">–20</text>
<text transform="translate(1024 527.4) scale(1 1.035)" text-anchor="end" font-size="30">–28</text>
<text transform="translate(1024 331.57) scale(1 1.035)" text-anchor="end" font-size="30">–24</text>
<text transform="translate(1024 135.73) scale(1 1.035)" text-anchor="end" font-size="30">–20</text>
<text transform="translate(1397.95 709.7) scale(1 1.035)" text-anchor="middle" font-size="29.5"><tspan>SPE-DOC </tspan><tspan font-family="'Liberation Serif', serif" font-weight="normal" font-size="29.5">δ</tspan><tspan font-size="18.29" dy="-12.39">13</tspan><tspan dy="12.39">C (‰)</tspan></text>
<text transform="translate(948 319.7) rotate(-90) scale(1 1.035)" text-anchor="middle" font-size="29.5"><tspan>DOC </tspan><tspan font-family="'Liberation Serif', serif" font-weight="normal" font-size="29.5">δ</tspan><tspan font-size="18.29" dy="-12.39">13</tspan><tspan dy="12.39">C (‰)</tspan></text>
<text transform="translate(919 31) scale(1 1.035)" font-size="40.5">d</text>
<text transform="translate(1367 113.9) scale(1 1.035)" font-size="24.1" xml:space="preserve"><tspan font-style="italic">R</tspan><tspan font-size="15.67" dx="0.8" dy="-10.12">2</tspan><tspan dy="10.12"> </tspan>= 0.23, <tspan font-style="italic">p</tspan> < 0.01</text>
<text transform="translate(1367 142.7) scale(1 1.035)" font-size="24.1" xml:space="preserve">Slope: 0.59 ± 0.18, <tspan font-style="italic">p</tspan> < 0.01</text>
<text transform="translate(1367 171.5) scale(1 1.035)" font-size="24.1" xml:space="preserve">Intercept: –9.9 ± 4.7, <tspan font-style="italic">p</tspan> = 0.0414</text>
<circle cx="1559.8" cy="450.7" r="11" fill="#008000"/>
<text transform="translate(1582.4 460.9) scale(1 1.035)" font-size="29.2" fill="#008000">River</text>
<rect x="1550" y="489.7" width="19.6" height="19.6" fill="#ff0000"/>
<text transform="translate(1582.4 509.8) scale(1 1.035)" font-size="29.2" fill="#ff0000">Coast</text>
<polygon points="1559.8,533.8 1572,555.8 1547.6,555.8" fill="#0000ff"/>
<text transform="translate(1582.4 555.8) scale(1 1.035)" font-size="29.2" fill="#0000ff">Ocean</text>
</g>
<g id="pe">
<g fill="#008000" stroke="#fff" stroke-width="0.8">
<circle cx="1381.6" cy="940.5" r="10.9"/>
<circle cx="1358.6" cy="1019.1" r="10.9"/>
<circle cx="1452.7" cy="1008.6" r="10.9"/>
<circle cx="1440.2" cy="1019.1" r="10.9"/>
<circle cx="1370" cy="1102.5" r="10.9"/>
<circle cx="1288" cy="1127.1" r="10.9"/>
<circle cx="1429.2" cy="1116.9" r="10.9"/>
<circle cx="1482.4" cy="1112.5" r="10.9"/>
<circle cx="1446.4" cy="1161.7" r="10.9"/>
<circle cx="1464.3" cy="1189.8" r="10.9"/>
<circle cx="1464.3" cy="1195.6" r="10.9"/>
<circle cx="1258.4" cy="1205.2" r="10.9"/>
<circle cx="1322.9" cy="1220" r="10.9"/>
<circle cx="1364.2" cy="1205.2" r="10.9"/>
<circle cx="1364.2" cy="1234.9" r="10.9"/>
<circle cx="1405.1" cy="1213.5" r="10.9"/>
<circle cx="1399.5" cy="1220" r="10.9"/>
<circle cx="1423.6" cy="1219.3" r="10.9"/>
<circle cx="1424.1" cy="1224.9" r="10.9"/>
<circle cx="1417.4" cy="1224.9" r="10.9"/>
<circle cx="1340.6" cy="1254.8" r="10.9"/>
<circle cx="1423.6" cy="1259.2" r="10.9"/>
<circle cx="1417.4" cy="1254.8" r="10.9"/>
<circle cx="1417.4" cy="1264.4" r="10.9"/>
<circle cx="1399.5" cy="1293.4" r="10.9"/>
<circle cx="1358.2" cy="1303.4" r="10.9"/>
<circle cx="1364.1" cy="1333.5" r="10.9"/>
</g>
<g fill="#ff0000" stroke="#fff" stroke-width="0.6">
<rect x="1548.7" y="980" width="19.6" height="19.6"/>
<rect x="1631" y="1039.4" width="19.6" height="19.6"/>
<rect x="1460.7" y="1087.8" width="19.6" height="19.6"/>
<rect x="1484" y="1151.5" width="19.6" height="19.6"/>
<rect x="1501.6" y="1166.3" width="19.6" height="19.6"/>
<rect x="1501.6" y="1200.7" width="19.6" height="19.6"/>
<rect x="1684.1" y="1147.2" width="19.6" height="19.6"/>
</g>
<g fill="#0000ff" stroke="#fff" stroke-width="0.6">
<polygon points="1582.3,981.8 1594.8,1003.8 1569.8,1003.8"/>
<polygon points="1647.1,996.4 1659.6,1018.4 1634.6,1018.4"/>
<polygon points="1676.4,1006.8 1688.9,1028.8 1663.9,1028.8"/>
<polygon points="1629.1,1021.5 1641.6,1043.5 1616.6,1043.5"/>
<polygon points="1729.4,982.6 1741.9,1004.6 1716.9,1004.6"/>
<polygon points="1729.4,996.4 1741.9,1018.4 1716.9,1018.4"/>
</g>
<polygon points="1258.4,1190.7 1266.38,1188.38 1274.37,1186.04 1282.35,1183.68 1290.33,1181.3 1298.32,1178.9 1306.3,1176.47 1314.28,1174.01 1322.26,1171.52 1330.25,1169 1338.23,1166.43 1346.21,1163.83 1354.2,1161.18 1362.18,1158.48 1370.16,1155.72 1378.15,1152.9 1386.13,1150.02 1394.11,1147.05 1402.09,1144.01 1410.08,1140.88 1418.06,1137.65 1426.04,1134.32 1434.03,1130.88 1442.01,1127.33 1449.99,1123.66 1457.98,1119.87 1465.96,1115.95 1473.94,1111.9 1481.93,1107.74 1489.91,1103.45 1497.89,1099.04 1505.87,1094.53 1513.86,1089.9 1521.84,1085.18 1529.82,1080.37 1537.81,1075.47 1545.79,1070.49 1553.77,1065.44 1561.76,1060.32 1569.74,1055.15 1577.72,1049.92 1585.71,1044.65 1593.69,1039.33 1601.67,1033.96 1609.65,1028.57 1617.64,1023.14 1625.62,1017.68 1633.6,1012.19 1641.59,1006.68 1649.57,1001.14 1657.55,995.59 1665.54,990.01 1673.52,984.42 1681.5,978.81 1689.48,973.19 1697.47,967.56 1705.45,961.91 1713.43,956.25 1721.42,950.58 1729.4,944.9 1729.4,1084.1 1721.42,1086.33 1713.43,1088.56 1705.45,1090.81 1697.47,1093.06 1689.48,1095.33 1681.5,1097.62 1673.52,1099.92 1665.54,1102.23 1657.55,1104.56 1649.57,1106.91 1641.59,1109.28 1633.6,1111.67 1625.62,1114.09 1617.64,1116.53 1609.65,1119.01 1601.67,1121.52 1593.69,1124.06 1585.71,1126.65 1577.72,1129.27 1569.74,1131.95 1561.76,1134.68 1553.77,1137.47 1545.79,1140.33 1537.81,1143.26 1529.82,1146.26 1521.84,1149.35 1513.86,1152.53 1505.87,1155.82 1497.89,1159.2 1489.91,1162.7 1481.93,1166.32 1473.94,1170.06 1465.96,1173.92 1457.98,1177.91 1449.99,1182.02 1442.01,1186.25 1434.03,1190.6 1426.04,1195.07 1418.06,1199.65 1410.08,1204.33 1402.09,1209.1 1394.11,1213.96 1386.13,1218.9 1378.15,1223.92 1370.16,1229.01 1362.18,1234.15 1354.2,1239.36 1346.21,1244.61 1338.23,1249.92 1330.25,1255.26 1322.26,1260.64 1314.28,1266.06 1306.3,1271.5 1298.32,1276.98 1290.33,1282.48 1282.35,1288 1274.37,1293.55 1266.38,1299.12 1258.4,1304.7" fill="#323232" fill-opacity="0.25" stroke="none"/>
<polyline points="1258.4,1190.7 1266.38,1188.38 1274.37,1186.04 1282.35,1183.68 1290.33,1181.3 1298.32,1178.9 1306.3,1176.47 1314.28,1174.01 1322.26,1171.52 1330.25,1169 1338.23,1166.43 1346.21,1163.83 1354.2,1161.18 1362.18,1158.48 1370.16,1155.72 1378.15,1152.9 1386.13,1150.02 1394.11,1147.05 1402.09,1144.01 1410.08,1140.88 1418.06,1137.65 1426.04,1134.32 1434.03,1130.88 1442.01,1127.33 1449.99,1123.66 1457.98,1119.87 1465.96,1115.95 1473.94,1111.9 1481.93,1107.74 1489.91,1103.45 1497.89,1099.04 1505.87,1094.53 1513.86,1089.9 1521.84,1085.18 1529.82,1080.37 1537.81,1075.47 1545.79,1070.49 1553.77,1065.44 1561.76,1060.32 1569.74,1055.15 1577.72,1049.92 1585.71,1044.65 1593.69,1039.33 1601.67,1033.96 1609.65,1028.57 1617.64,1023.14 1625.62,1017.68 1633.6,1012.19 1641.59,1006.68 1649.57,1001.14 1657.55,995.59 1665.54,990.01 1673.52,984.42 1681.5,978.81 1689.48,973.19 1697.47,967.56 1705.45,961.91 1713.43,956.25 1721.42,950.58 1729.4,944.9" fill="none" stroke="#3c3c3c" stroke-width="1.3" stroke-dasharray="6.4 4.1"/>
<polyline points="1258.4,1304.7 1266.38,1299.12 1274.37,1293.55 1282.35,1288 1290.33,1282.48 1298.32,1276.98 1306.3,1271.5 1314.28,1266.06 1322.26,1260.64 1330.25,1255.26 1338.23,1249.92 1346.21,1244.61 1354.2,1239.36 1362.18,1234.15 1370.16,1229.01 1378.15,1223.92 1386.13,1218.9 1394.11,1213.96 1402.09,1209.1 1410.08,1204.33 1418.06,1199.65 1426.04,1195.07 1434.03,1190.6 1442.01,1186.25 1449.99,1182.02 1457.98,1177.91 1465.96,1173.92 1473.94,1170.06 1481.93,1166.32 1489.91,1162.7 1497.89,1159.2 1505.87,1155.82 1513.86,1152.53 1521.84,1149.35 1529.82,1146.26 1537.81,1143.26 1545.79,1140.33 1553.77,1137.47 1561.76,1134.68 1569.74,1131.95 1577.72,1129.27 1585.71,1126.65 1593.69,1124.06 1601.67,1121.52 1609.65,1119.01 1617.64,1116.53 1625.62,1114.09 1633.6,1111.67 1641.59,1109.28 1649.57,1106.91 1657.55,1104.56 1665.54,1102.23 1673.52,1099.92 1681.5,1097.62 1689.48,1095.33 1697.47,1093.06 1705.45,1090.81 1713.43,1088.56 1721.42,1086.33 1729.4,1084.1" fill="none" stroke="#3c3c3c" stroke-width="1.3" stroke-dasharray="6.4 4.1"/>
<line x1="1258.4" y1="1247.7" x2="1729.4" y2="1014.5" stroke="#000" stroke-width="1.3"/>
<path d="M1046.4 1382.4V1387.9M1046.4 794V788.5M1164.22 1382.4V1393.9M1164.22 794V782.5M1282.03 1382.4V1387.9M1282.03 794V788.5M1399.85 1382.4V1393.9M1399.85 794V782.5M1517.67 1382.4V1387.9M1517.67 794V788.5M1635.48 1382.4V1393.9M1635.48 794V782.5M1753.3 1382.4V1387.9M1753.3 794V788.5M1046.4 1382.4H1040.9M1753.3 1382.4H1758.8M1046.4 1284.33H1034.9M1753.3 1284.33H1764.8M1046.4 1186.27H1040.9M1753.3 1186.27H1758.8M1046.4 1088.2H1034.9M1753.3 1088.2H1764.8M1046.4 990.13H1040.9M1753.3 990.13H1758.8M1046.4 892.07H1034.9M1753.3 892.07H1764.8M1046.4 794H1040.9M1753.3 794H1758.8" stroke="#000" stroke-width="2" fill="none" stroke-linecap="butt"/>
<rect x="1046.4" y="794" width="706.9" height="588.4" fill="none" stroke="#000" stroke-width="2"/>
<text transform="translate(1162.72 1427.7) scale(1 1.035)" text-anchor="middle" font-size="30">–28</text>
<text transform="translate(1398.35 1427.7) scale(1 1.035)" text-anchor="middle" font-size="30">–24</text>
<text transform="translate(1633.98 1427.7) scale(1 1.035)" text-anchor="middle" font-size="30">–20</text>
<text transform="translate(1024.4 1294.65) scale(1 1.035)" text-anchor="end" font-size="30">–28</text>
<text transform="translate(1024.4 1098.52) scale(1 1.035)" text-anchor="end" font-size="30">–24</text>
<text transform="translate(1024.4 902.38) scale(1 1.035)" text-anchor="end" font-size="30">–20</text>
<text transform="translate(1398.15 1475.8) scale(1 1.035)" text-anchor="middle" font-size="29.5"><tspan>DBC </tspan><tspan font-family="'Liberation Serif', serif" font-weight="normal" font-size="29.5">δ</tspan><tspan font-size="18.29" dy="-12.39">13</tspan><tspan dy="12.39">C (‰)</tspan></text>
<text transform="translate(948 1085.85) rotate(-90) scale(1 1.035)" text-anchor="middle" font-size="29.5"><tspan>DOC </tspan><tspan font-family="'Liberation Serif', serif" font-weight="normal" font-size="29.5">δ</tspan><tspan font-size="18.29" dy="-12.39">13</tspan><tspan dy="12.39">C (‰)</tspan></text>
<text transform="translate(920 796.5) scale(1 1.035)" font-size="40.5">e</text>
<text transform="translate(1343.2 856) scale(1 1.035)" font-size="24.1" xml:space="preserve"><tspan font-style="italic">R</tspan><tspan font-size="15.67" dx="0.8" dy="-10.12">2</tspan><tspan dy="10.12"> </tspan>= 0.31, <tspan font-style="italic">p</tspan> < 0.0001</text>
<text transform="translate(1343.2 884.8) scale(1 1.035)" font-size="24.1" xml:space="preserve">Slope: 0.59 ± 0.14, <tspan font-style="italic">p</tspan> < 0.001</text>
<text transform="translate(1343.2 913.6) scale(1 1.035)" font-size="24.1" xml:space="preserve">Intercept: –11.6 ± 3.3, <tspan font-style="italic">p</tspan> = 0.00106</text>
<circle cx="1567.4" cy="1237" r="11" fill="#008000"/>
<text transform="translate(1590 1247.2) scale(1 1.035)" font-size="29.2" fill="#008000">River</text>
<rect x="1557.6" y="1276" width="19.6" height="19.6" fill="#ff0000"/>
<text transform="translate(1590 1296.1) scale(1 1.035)" font-size="29.2" fill="#ff0000">Coast</text>
<polygon points="1567.4,1320.1 1579.6,1342.1 1555.2,1342.1" fill="#0000ff"/>
<text transform="translate(1590 1342.1) scale(1 1.035)" font-size="29.2" fill="#0000ff">Ocean</text>
</g>
<g id="pf">
<path d="M1339 1973.1V2031.2M1333 1973.1H1345M1333 2031.2H1345" stroke="#008000" stroke-width="1.3" fill="none"/>
<path d="M1357.4 2071V2114.9M1351.4 2071H1363.4M1351.4 2114.9H1363.4" stroke="#008000" stroke-width="1.3" fill="none"/>
<path d="M1416.3 2026V2041.7M1410.3 2026H1422.3M1410.3 2041.7H1422.3" stroke="#008000" stroke-width="1.3" fill="none"/>
<path d="M1646.3 1792.1V1810.9M1640.3 1792.1H1652.3M1640.3 1810.9H1652.3" stroke="#0000ff" stroke-width="1.3" fill="none"/>
<path d="M1676.4 1781.7V1831M1670.4 1781.7H1682.4M1670.4 1831H1682.4" stroke="#0000ff" stroke-width="1.3" fill="none"/>
<path d="M1582.3 1841V1869.5M1576.3 1841H1588.3M1576.3 1869.5H1588.3" stroke="#0000ff" stroke-width="1.3" fill="none"/>
<g fill="#008000" stroke="#fff" stroke-width="0.8">
<circle cx="1404.6" cy="1952.2" r="10.9"/>
<circle cx="1257" cy="1992" r="10.9"/>
<circle cx="1322.3" cy="1982.3" r="10.9"/>
<circle cx="1362.8" cy="1976.1" r="10.9"/>
<circle cx="1362.8" cy="1992.8" r="10.9"/>
<circle cx="1381.6" cy="1984.4" r="10.9"/>
<circle cx="1339" cy="2002" r="10.9"/>
<circle cx="1398.3" cy="1997" r="10.9"/>
<circle cx="1423.4" cy="1971.9" r="10.9"/>
<circle cx="1423.4" cy="1982.3" r="10.9"/>
<circle cx="1417.2" cy="1977.3" r="10.9"/>
<circle cx="1445.6" cy="1972.7" r="10.9"/>
<circle cx="1427.6" cy="1999" r="10.9"/>
<circle cx="1417.2" cy="2010.8" r="10.9"/>
<circle cx="1440.2" cy="2008.7" r="10.9"/>
<circle cx="1452.7" cy="2001.1" r="10.9"/>
<circle cx="1463.2" cy="2006.6" r="10.9"/>
<circle cx="1481.1" cy="2000.3" r="10.9"/>
<circle cx="1416.3" cy="2026.2" r="10.9"/>
<circle cx="1356.5" cy="2026.2" r="10.9"/>
<circle cx="1369.1" cy="2032.5" r="10.9"/>
<circle cx="1398.3" cy="2040.9" r="10.9"/>
<circle cx="1463.2" cy="2031.2" r="10.9"/>
<circle cx="1362.8" cy="2051.3" r="10.9"/>
<circle cx="1287.6" cy="2060.9" r="10.9"/>
<circle cx="1357.4" cy="2071" r="10.9"/>
</g>
<g fill="#ff0000" stroke="#fff" stroke-width="0.6">
<rect x="1630.2" y="1776" width="19.6" height="19.6"/>
<rect x="1683.7" y="1781.1" width="19.6" height="19.6"/>
<rect x="1459.7" y="1840.6" width="19.6" height="19.6"/>
<rect x="1482.9" y="1835.7" width="19.6" height="19.6"/>
<rect x="1548.2" y="1855.4" width="19.6" height="19.6"/>
<rect x="1500.7" y="1913.5" width="19.6" height="19.6"/>
<rect x="1500.7" y="1904.4" width="19.6" height="19.6"/>
</g>
<g fill="#0000ff" stroke="#fff" stroke-width="0.6">
<polygon points="1728.6,1778.2 1741.1,1800.2 1716.1,1800.2"/>
<polygon points="1646.3,1789.5 1658.8,1811.5 1633.8,1811.5"/>
<polygon points="1675.5,1793.7 1688,1815.7 1663,1815.7"/>
<polygon points="1581,1843.8 1593.5,1865.8 1568.5,1865.8"/>
<polygon points="1628.3,1847.2 1640.8,1869.2 1615.8,1869.2"/>
</g>
<polygon points="1257.5,2055.25 1265.48,2050.87 1273.47,2046.47 1281.45,2042.07 1289.44,2037.65 1297.42,2033.22 1305.41,2028.77 1313.39,2024.31 1321.38,2019.83 1329.36,2015.33 1337.35,2010.8 1345.33,2006.26 1353.32,2001.69 1361.3,1997.09 1369.29,1992.45 1377.27,1987.79 1385.26,1983.08 1393.24,1978.34 1401.23,1973.56 1409.21,1968.73 1417.19,1963.85 1425.18,1958.92 1433.16,1953.93 1441.15,1948.89 1449.13,1943.79 1457.12,1938.64 1465.1,1933.42 1473.09,1928.15 1481.07,1922.82 1489.06,1917.43 1497.04,1912 1505.03,1906.51 1513.01,1900.97 1521,1895.39 1528.98,1889.76 1536.97,1884.1 1544.95,1878.4 1552.94,1872.66 1560.92,1866.9 1568.91,1861.11 1576.89,1855.29 1584.87,1849.45 1592.86,1843.58 1600.84,1837.7 1608.83,1831.8 1616.81,1825.89 1624.8,1819.96 1632.78,1814.01 1640.77,1808.06 1648.75,1802.09 1656.74,1796.11 1664.72,1790.12 1672.71,1784.12 1680.69,1778.12 1688.68,1772.11 1696.66,1766.09 1704.65,1760.06 1712.63,1754.03 1720.62,1747.99 1728.6,1741.95 1728.6,1814.65 1720.62,1818.97 1712.63,1823.29 1704.65,1827.62 1696.66,1831.95 1688.68,1836.29 1680.69,1840.64 1672.71,1844.99 1664.72,1849.35 1656.74,1853.72 1648.75,1858.1 1640.77,1862.5 1632.78,1866.9 1624.8,1871.31 1616.81,1875.74 1608.83,1880.19 1600.84,1884.65 1592.86,1889.12 1584.87,1893.62 1576.89,1898.14 1568.91,1902.68 1560.92,1907.25 1552.94,1911.84 1544.95,1916.47 1536.97,1921.13 1528.98,1925.82 1521,1930.56 1513.01,1935.33 1505.03,1940.16 1497.04,1945.02 1489.06,1949.95 1481.07,1954.92 1473.09,1959.95 1465.1,1965.04 1457.12,1970.18 1449.13,1975.38 1441.15,1980.65 1433.16,1985.96 1425.18,1991.34 1417.19,1996.77 1409.21,2002.25 1401.23,2007.77 1393.24,2013.35 1385.26,2018.97 1377.27,2024.62 1369.29,2030.32 1361.3,2036.04 1353.32,2041.8 1345.33,2047.59 1337.35,2053.4 1329.36,2059.24 1321.38,2065.1 1313.39,2070.98 1305.41,2076.87 1297.42,2082.78 1289.44,2088.71 1281.45,2094.65 1273.47,2100.61 1265.48,2106.57 1257.5,2112.55" fill="#323232" fill-opacity="0.25" stroke="none"/>
<polyline points="1257.5,2055.25 1265.48,2050.87 1273.47,2046.47 1281.45,2042.07 1289.44,2037.65 1297.42,2033.22 1305.41,2028.77 1313.39,2024.31 1321.38,2019.83 1329.36,2015.33 1337.35,2010.8 1345.33,2006.26 1353.32,2001.69 1361.3,1997.09 1369.29,1992.45 1377.27,1987.79 1385.26,1983.08 1393.24,1978.34 1401.23,1973.56 1409.21,1968.73 1417.19,1963.85 1425.18,1958.92 1433.16,1953.93 1441.15,1948.89 1449.13,1943.79 1457.12,1938.64 1465.1,1933.42 1473.09,1928.15 1481.07,1922.82 1489.06,1917.43 1497.04,1912 1505.03,1906.51 1513.01,1900.97 1521,1895.39 1528.98,1889.76 1536.97,1884.1 1544.95,1878.4 1552.94,1872.66 1560.92,1866.9 1568.91,1861.11 1576.89,1855.29 1584.87,1849.45 1592.86,1843.58 1600.84,1837.7 1608.83,1831.8 1616.81,1825.89 1624.8,1819.96 1632.78,1814.01 1640.77,1808.06 1648.75,1802.09 1656.74,1796.11 1664.72,1790.12 1672.71,1784.12 1680.69,1778.12 1688.68,1772.11 1696.66,1766.09 1704.65,1760.06 1712.63,1754.03 1720.62,1747.99 1728.6,1741.95" fill="none" stroke="#3c3c3c" stroke-width="1.3" stroke-dasharray="6.4 4.1"/>
<polyline points="1257.5,2112.55 1265.48,2106.57 1273.47,2100.61 1281.45,2094.65 1289.44,2088.71 1297.42,2082.78 1305.41,2076.87 1313.39,2070.98 1321.38,2065.1 1329.36,2059.24 1337.35,2053.4 1345.33,2047.59 1353.32,2041.8 1361.3,2036.04 1369.29,2030.32 1377.27,2024.62 1385.26,2018.97 1393.24,2013.35 1401.23,2007.77 1409.21,2002.25 1417.19,1996.77 1425.18,1991.34 1433.16,1985.96 1441.15,1980.65 1449.13,1975.38 1457.12,1970.18 1465.1,1965.04 1473.09,1959.95 1481.07,1954.92 1489.06,1949.95 1497.04,1945.02 1505.03,1940.16 1513.01,1935.33 1521,1930.56 1528.98,1925.82 1536.97,1921.13 1544.95,1916.47 1552.94,1911.84 1560.92,1907.25 1568.91,1902.68 1576.89,1898.14 1584.87,1893.62 1592.86,1889.12 1600.84,1884.65 1608.83,1880.19 1616.81,1875.74 1624.8,1871.31 1632.78,1866.9 1640.77,1862.5 1648.75,1858.1 1656.74,1853.72 1664.72,1849.35 1672.71,1844.99 1680.69,1840.64 1688.68,1836.29 1696.66,1831.95 1704.65,1827.62 1712.63,1823.29 1720.62,1818.97 1728.6,1814.65" fill="none" stroke="#3c3c3c" stroke-width="1.3" stroke-dasharray="6.4 4.1"/>
<line x1="1257.5" y1="2083.9" x2="1728.6" y2="1778.3" stroke="#000" stroke-width="1.3"/>
<path d="M1045.6 2149.3V2154.8M1045.6 1561.6V1556.1M1163.4 2149.3V2160.8M1163.4 1561.6V1550.1M1281.2 2149.3V2154.8M1281.2 1561.6V1556.1M1399 2149.3V2160.8M1399 1561.6V1550.1M1516.8 2149.3V2154.8M1516.8 1561.6V1556.1M1634.6 2149.3V2160.8M1634.6 1561.6V1550.1M1752.4 2149.3V2154.8M1752.4 1561.6V1556.1M1045.6 2149.3H1040.1M1752.4 2149.3H1757.9M1045.6 2051.35H1034.1M1752.4 2051.35H1763.9M1045.6 1953.4H1040.1M1752.4 1953.4H1757.9M1045.6 1855.45H1034.1M1752.4 1855.45H1763.9M1045.6 1757.5H1040.1M1752.4 1757.5H1757.9M1045.6 1659.55H1034.1M1752.4 1659.55H1763.9M1045.6 1561.6H1040.1M1752.4 1561.6H1757.9" stroke="#000" stroke-width="2" fill="none" stroke-linecap="butt"/>
<rect x="1045.6" y="1561.6" width="706.8" height="587.7" fill="none" stroke="#000" stroke-width="2"/>
<text transform="translate(1161.9 2194.6) scale(1 1.035)" text-anchor="middle" font-size="30">–28</text>
<text transform="translate(1397.5 2194.6) scale(1 1.035)" text-anchor="middle" font-size="30">–24</text>
<text transform="translate(1633.1 2194.6) scale(1 1.035)" text-anchor="middle" font-size="30">–20</text>
<text transform="translate(1023.6 2061.67) scale(1 1.035)" text-anchor="end" font-size="30">–28</text>
<text transform="translate(1023.6 1865.77) scale(1 1.035)" text-anchor="end" font-size="30">–24</text>
<text transform="translate(1023.6 1669.87) scale(1 1.035)" text-anchor="end" font-size="30">–20</text>
<text transform="translate(1397.3 2242.6) scale(1 1.035)" text-anchor="middle" font-size="29.5"><tspan>DBC </tspan><tspan font-family="'Liberation Serif', serif" font-weight="normal" font-size="29.5">δ</tspan><tspan font-size="18.29" dy="-12.39">13</tspan><tspan dy="12.39">C (‰)</tspan></text>
<text transform="translate(948 1855.8) rotate(-90) scale(1 1.035)" text-anchor="middle" font-size="29.5"><tspan>SPE-DOC </tspan><tspan font-family="'Liberation Serif', serif" font-weight="normal" font-size="29.5">δ</tspan><tspan font-size="18.29" dy="-12.39">13</tspan><tspan dy="12.39">C (‰)</tspan></text>
<text transform="translate(924 1560.7) scale(1 1.035)" font-size="40.5">f</text>
<text transform="translate(1235.3 1652.1) scale(1 1.035)" font-size="24.1" xml:space="preserve"><tspan font-style="italic">R</tspan><tspan font-size="15.67" dx="0.8" dy="-10.12">2</tspan><tspan dy="10.12"> </tspan>= 0.75, <tspan font-style="italic">p</tspan> < 0.0001</text>
<text transform="translate(1235.3 1680.9) scale(1 1.035)" font-size="24.1" xml:space="preserve">Slope: 0.78 ± 0.07, <tspan font-style="italic">p</tspan> < 0.0001</text>
<text transform="translate(1235.3 1709.7) scale(1 1.035)" font-size="24.1" xml:space="preserve">Intercept: –8.1 ± 1.7, <tspan font-style="italic">p</tspan> < 0.0001</text>
<circle cx="1566.3" cy="2003.5" r="11" fill="#008000"/>
<text transform="translate(1588.9 2013.7) scale(1 1.035)" font-size="29.2" fill="#008000">River</text>
<rect x="1556.5" y="2042.5" width="19.6" height="19.6" fill="#ff0000"/>
<text transform="translate(1588.9 2062.6) scale(1 1.035)" font-size="29.2" fill="#ff0000">Coast</text>
<polygon points="1566.3,2086.6 1578.5,2108.6 1554.1,2108.6" fill="#0000ff"/>
<text transform="translate(1588.9 2108.6) scale(1 1.035)" font-size="29.2" fill="#0000ff">Ocean</text>
</g>
</svg>
</body></html>
